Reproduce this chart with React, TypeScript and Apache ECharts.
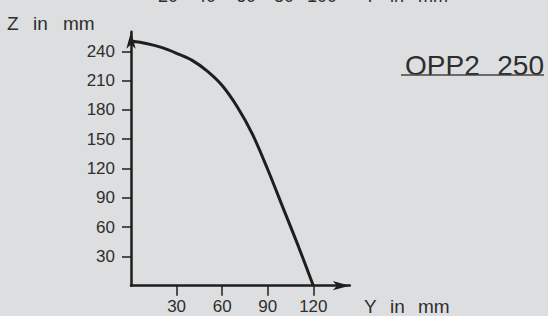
import React, { useEffect, useRef } from "react";
import * as echarts from "echarts";

const curveY = [0, 10, 20, 30, 40, 50, 60, 70, 80, 90, 100, 110, 120];
const curveZ = [250.5, 248, 244, 238, 231, 220, 205, 183, 155, 119, 80, 41, 0];
const xTicks = [30, 60, 90, 120];
const yTicks = [30, 60, 90, 120, 150, 180, 210, 240];
const topRowLabels = ["20", "40", "60", "80", "100"];
const topRowX = [158, 196, 236, 274, 307];

const INK = "#1e1e1e";
const TXT = "#2e2e2e";
const FONT = "Liberation Sans";

export default function App() {
  const ref = useRef<HTMLDivElement>(null);
  useEffect(() => {
    if (!ref.current) return;
    const chart = echarts.init(ref.current, undefined, { renderer: "svg" });
    const data = curveY.map((y, i) => [y, curveZ[i]]);
    const txt = (text: string, x: number, y: number, size: number, align = "left") => ({
      type: "text",
      x,
      y,
      silent: true,
      style: {
        text,
        fill: TXT,
        font: `${size}px "${FONT}"`,
        textAlign: align,
        textVerticalAlign: "bottom",
      },
    });
    const graphics: any[] = [
      txt("Z", 7, 33, 19),
      txt("in", 33, 33, 19),
      txt("mm", 63, 33, 19),
      txt("Y", 364, 316, 19),
      txt("in", 390, 316, 19),
      txt("mm", 418, 316, 19),
      txt("OPP2", 405, 79, 28),
      txt("250", 544, 79, 28, "right"),
      {
        type: "line",
        silent: true,
        shape: { x1: 401, y1: 75, x2: 544, y2: 75 },
        style: { stroke: "#444", lineWidth: 1.5 },
      },
      ...topRowLabels.map((t, i) => txt(t, topRowX[i], 5, 18)),
      txt("Y", 364, 5, 18),
      txt("in", 390, 5, 18),
      txt("mm", 418, 5, 18),
    ];
    chart.setOption({
      animation: false,
      backgroundColor: "#dddee0",
      grid: { left: 131, top: 31.8, width: 218.8, height: 253.9, containLabel: false },
      xAxis: {
        type: "value",
        min: 0,
        max: 144,
        interval: 30,
        splitLine: { show: false },
        axisLine: {
          show: true,
          onZero: false,
          symbol: ["none", "arrow"],
          symbolSize: [7, 17],
          lineStyle: { color: INK, width: 2.5 },
        },
        axisTick: {
          show: true,
          length: 10,
          customValues: xTicks,
          lineStyle: { color: INK, width: 1.5 },
        },
        axisLabel: {
          customValues: xTicks,
          margin: 12,
          color: TXT,
          fontFamily: FONT,
          fontSize: 17,
        },
      },
      yAxis: {
        type: "value",
        min: 0,
        max: 260,
        interval: 30,
        splitLine: { show: false },
        axisLine: {
          show: true,
          onZero: false,
          symbol: ["none", "arrow"],
          symbolSize: [7, 17],
          lineStyle: { color: INK, width: 2.5 },
        },
        axisTick: {
          show: true,
          length: 9,
          customValues: yTicks,
          lineStyle: { color: INK, width: 1.5 },
        },
        axisLabel: {
          customValues: yTicks,
          margin: 16,
          color: TXT,
          fontFamily: FONT,
          fontSize: 17,
        },
      },
      series: [
        {
          type: "line",
          data,
          smooth: 0.3,
          showSymbol: false,
          lineStyle: { color: INK, width: 3 },
          z: 3,
        },
      ],
      graphic: graphics,
    });
    return () => chart.dispose();
  }, []);
  return (
    <div
      ref={ref}
      style={{ position: "fixed", left: 0, top: 0, width: 548, height: 316 }}
    />
  );
}
